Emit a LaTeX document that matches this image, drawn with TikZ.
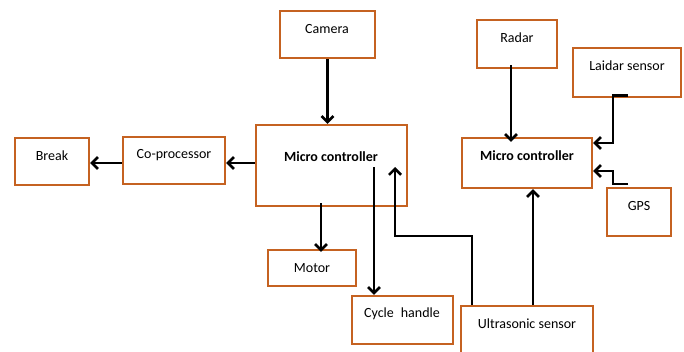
\documentclass[tikz,border=0pt]{standalone}
\usepackage{fontspec}
\setmainfont{Carlito}
\usetikzlibrary{arrows.meta}
\definecolor{boxorange}{RGB}{197,98,33}
\tikzset{
  box/.style={draw=boxorange, line width=2.2pt, rectangle, inner sep=0pt},
  txt/.style={font=\fontsize{14}{16}\selectfont, inner sep=0pt},
  btxt/.style={font=\fontsize{14}{16}\selectfont\bfseries, inner sep=0pt},
  arr/.style={line width=2.8pt, -{Straight Barb[length=6pt,width=12pt,line width=2.6pt]}},
}
\begin{document}
\begin{tikzpicture}[x=1pt, y=-1pt]
\useasboundingbox (0,0) rectangle (684,351);
\clip (0,0) rectangle (684,351);

% blocks
\node[box, minimum width=95pt, minimum height=47pt] (cam) at (327.5,34.5) {};
\node[box, minimum width=80pt, minimum height=48pt] (radar) at (517,44) {};
\node[box, minimum width=108pt, minimum height=49pt] (lidar) at (627,72.5) {};
\node[box, minimum width=151pt, minimum height=81pt] (mcl) at (331.5,165.5) {};
\node[box, minimum width=130pt, minimum height=50pt] (mcr) at (527,163) {};
\node[box, minimum width=74pt, minimum height=47pt] (brk) at (52,161.5) {};
\node[box, minimum width=102pt, minimum height=47pt] (cop) at (174,160.5) {};
\node[box, minimum width=88pt, minimum height=36pt] (mot) at (312,268) {};
\node[box, minimum width=101pt, minimum height=48pt] (cyc) at (402.5,320) {};
\node[box, minimum width=132pt, minimum height=60pt] (ult) at (527,336) {};
\node[box, minimum width=64pt, minimum height=48pt] (gps) at (639,212) {};

% labels
\node[txt] (camT) at (327,29) {Camera};
\node[txt] (radarT) at (517,38) {Radar};
\node[txt] (lidarT) at (627,66) {Laidar sensor};
\node[btxt] (mclT) at (331,157) {Micro controller};
\node[btxt] (mcrT) at (527,156) {Micro controller};
\node[txt] (brkT) at (52,156) {Break};
\node[txt] (copT) at (174,155) {Co-processor};
\node[txt] (motT) at (312,268) {Motor};
\node[txt] (cycT) at (402,314) {Cycle\enspace handle};
\node[txt] (ultT) at (527,324) {Ultrasonic sensor};
\node[txt] (gpsT) at (639,206) {GPS};

% connectors
\coordinate (mclIn) at (395,167);
\coordinate (mclOut) at (374,167);
\draw[arr] (cam.south) -- (cam.south |- mcl.north);
\draw[arr] (mcl.west |- 0,163) -- (cop.east |- 0,163);
\draw[arr] (cop.west |- 0,163) -- (brk.east |- 0,163);
\draw[arr] ([yshift=4pt]mcl.south -| 321,0) -- ([yshift=-3pt]mot.north -| 321,0);
\draw[arr] (mclOut) -- (mclOut |- cyc.north);
\draw[arr] (ult.north -| 472,0) |- (395,236) -- (mclIn);
\draw[arr] (ult.north -| 533,0) -- (mcr.south -| 533,0);
\draw[arr] ([yshift=4pt]radar.south -| 511,0) -- ([yshift=-5pt]mcr.north -| 511,0);
\draw[arr] ([yshift=3pt]lidar.south -| 628,0) -| (613,143) -- (mcr.east |- 0,143);
\draw[arr] ([yshift=3pt]gps.north -| 628,0) -| (613,171) -- (mcr.east |- 0,171);
\end{tikzpicture}
\end{document}
